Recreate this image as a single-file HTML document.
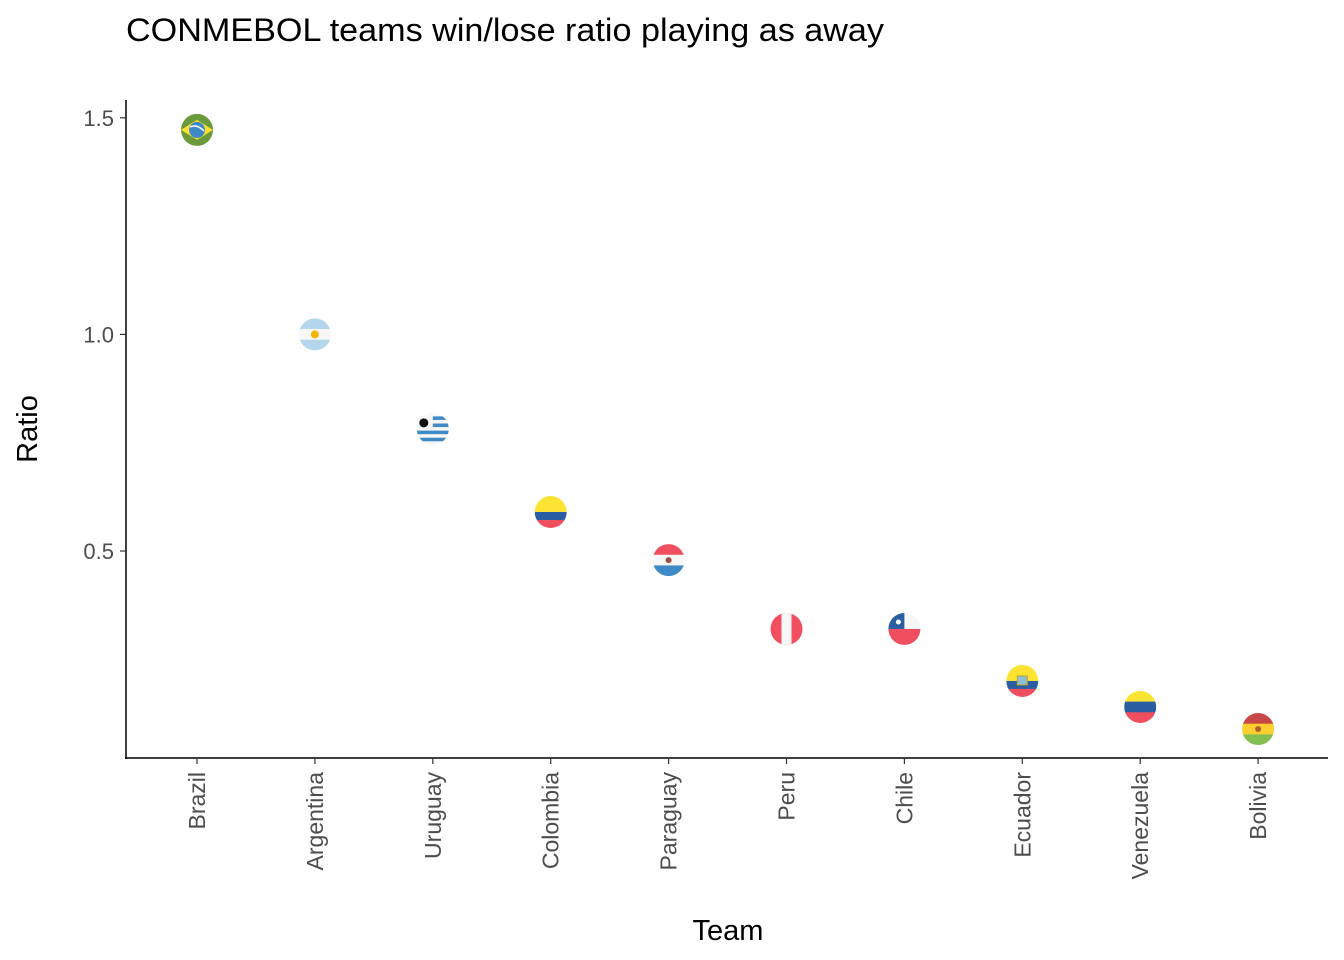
<!DOCTYPE html>
<html><head><meta charset="utf-8"><style>
html,body{margin:0;padding:0;background:#fff;}
svg{display:block;font-family:"Liberation Sans",Arial,sans-serif;}
</style></head><body>
<svg id="chart" width="1344" height="960" viewBox="0 0 1344 960">
<text x="126" y="41" font-size="32" fill="#000" textLength="758" lengthAdjust="spacingAndGlyphs">CONMEBOL teams win/lose ratio playing as away</text>
<g id="axes"></g>
<g id="marks"></g>
<text x="728" y="940" font-size="29" fill="#000" text-anchor="middle">Team</text>
<text transform="translate(37,429) rotate(-90)" font-size="29" fill="#000" text-anchor="middle">Ratio</text>
</svg>
<script>
const teams = ["Brazil","Argentina","Uruguay","Colombia","Paraguay","Peru","Chile","Ecuador","Venezuela","Bolivia"];
const ratios = [1.472,1.0,0.782,0.59,0.479,0.32,0.32,0.2,0.14,0.089];
const yTicks = [0.5,1.0,1.5];
const yTickLabels = ["0.5","1.0","1.5"];

const NS="http://www.w3.org/2000/svg";
const svg=document.getElementById('chart');
const axes=document.getElementById('axes');
const marks=document.getElementById('marks');
function xPos(i){return 197+i*117.9;}
function yPos(v){return 551-(v-0.5)*433.2;}
function mk(tag,attrs,parent){const e=document.createElementNS(NS,tag);for(const k in attrs)e.setAttribute(k,attrs[k]);parent.appendChild(e);return e;}

let l=mk('line',{x1:126,y1:100,x2:126,y2:759,stroke:'#000','stroke-width':1.5},axes);


l=mk('line',{x1:125,y1:758,x2:1328,y2:758,stroke:'#000','stroke-width':1.5},axes);


yTicks.forEach((v,i)=>{
  const y=yPos(v);
  const t=mk('line',{x1:120,y1:y,x2:126,y2:y,stroke:'#333','stroke-width':1.2},axes);
  
  
  const tx=mk('text',{x:114,y:y+8,'font-size':22,fill:'#4d4d4d','text-anchor':'end'},axes);
  tx.textContent=yTickLabels[i];
  
  
});
teams.forEach((t,i)=>{
  const x=xPos(i);
  const tk=mk('line',{x1:x,y1:758,x2:x,y2:764,stroke:'#333','stroke-width':1.2},axes);
  
  
  const tx=mk('text',{transform:`translate(${x+8},772) rotate(-90)`,'font-size':23,fill:'#4d4d4d','text-anchor':'end'},axes);
  tx.textContent=t;
  
  
});

const defs=mk('defs',{},svg);
const R=16;
function stripes(g,cx,cy,cols){const h=2*R/cols.length;cols.forEach((c,k)=>mk('rect',{x:cx-R,y:cy-R+k*h,width:2*R,height:h+0.3,fill:c},g));}
function drawFlag(g,name,cx,cy){
  switch(name){
    case 'Brazil':
      mk('rect',{x:cx-R,y:cy-R,width:2*R,height:2*R,fill:'#6a9a3a'},g);
      mk('polygon',{points:`${cx-R},${cy} ${cx},${cy-10} ${cx+R},${cy} ${cx},${cy+10}`,fill:'#fde030'},g);
      mk('circle',{cx:cx,cy:cy,r:8,fill:'#3e8ac6'},g);
      mk('path',{d:`M${cx-7},${cy-3} Q${cx},${cy-6} ${cx+7},${cy+1}`,stroke:'#fff','stroke-width':1.5,fill:'none'},g);break;
    case 'Argentina':
      stripes(g,cx,cy,['#b4d7ee','#f7f7f7','#b4d7ee']);
      mk('circle',{cx:cx,cy:cy,r:4,fill:'#f5b400'},g);break;
    case 'Uruguay':
      stripes(g,cx,cy,['#f7f7f7','#3e8ac6','#f7f7f7','#3e8ac6','#f7f7f7','#3e8ac6','#f7f7f7','#3e8ac6','#f7f7f7']);
      mk('rect',{x:cx-R,y:cy-R,width:R,height:R*1.1,fill:'#f7f7f7'},g);
      mk('circle',{cx:cx-9,cy:cy-6,r:4.5,fill:'#111'},g);break;
    case 'Colombia':
      mk('rect',{x:cx-R,y:cy-R,width:2*R,height:R,fill:'#fde432'},g);
      mk('rect',{x:cx-R,y:cy,width:2*R,height:R/2,fill:'#2a5ea0'},g);
      mk('rect',{x:cx-R,y:cy+R/2,width:2*R,height:R/2,fill:'#ef4f5f'},g);break;
    case 'Paraguay':
      stripes(g,cx,cy,['#ef4f5f','#f7f7f7','#3e8ac6']);
      mk('circle',{cx:cx,cy:cy,r:3,fill:'#a05040'},g);break;
    case 'Peru':
      mk('rect',{x:cx-R,y:cy-R,width:2*R,height:2*R,fill:'#ef4f5f'},g);
      mk('rect',{x:cx-5,y:cy-R,width:10,height:2*R,fill:'#f7f7f7'},g);break;
    case 'Chile':
      mk('rect',{x:cx-R,y:cy-R,width:2*R,height:R,fill:'#f7f7f7'},g);
      mk('rect',{x:cx-R,y:cy-R,width:R,height:R,fill:'#2a5ea0'},g);
      mk('rect',{x:cx-R,y:cy,width:2*R,height:R,fill:'#ef4f5f'},g);
      mk('circle',{cx:cx-6,cy:cy-7,r:2.5,fill:'#fff'},g);break;
    case 'Ecuador':
      mk('rect',{x:cx-R,y:cy-R,width:2*R,height:R,fill:'#fde432'},g);
      mk('rect',{x:cx-R,y:cy,width:2*R,height:R/2,fill:'#2a5ea0'},g);
      mk('rect',{x:cx-R,y:cy+R/2,width:2*R,height:R/2,fill:'#ef4f5f'},g);
      mk('rect',{x:cx-5,y:cy-5,width:10,height:9,fill:'#8ac0d8',stroke:'#c8a020'},g);break;
    case 'Venezuela':
      stripes(g,cx,cy,['#fde432','#2a5ea0','#ef4f5f']);break;
    case 'Bolivia':
      stripes(g,cx,cy,['#c84848','#fdd030','#84c050']);
      mk('circle',{cx:cx,cy:cy,r:3,fill:'#b06030'},g);break;
  }
}
teams.forEach((t,i)=>{
  const cx=xPos(i), cy=yPos(ratios[i]);
  const cp=mk('clipPath',{id:'cp'+i},defs);
  mk('circle',{cx:cx,cy:cy,r:R},cp);
  const g=mk('g',{'clip-path':`url(#cp${i})`},marks);
  
  
  drawFlag(g,t,cx,cy);
});
</script>
</body></html>
